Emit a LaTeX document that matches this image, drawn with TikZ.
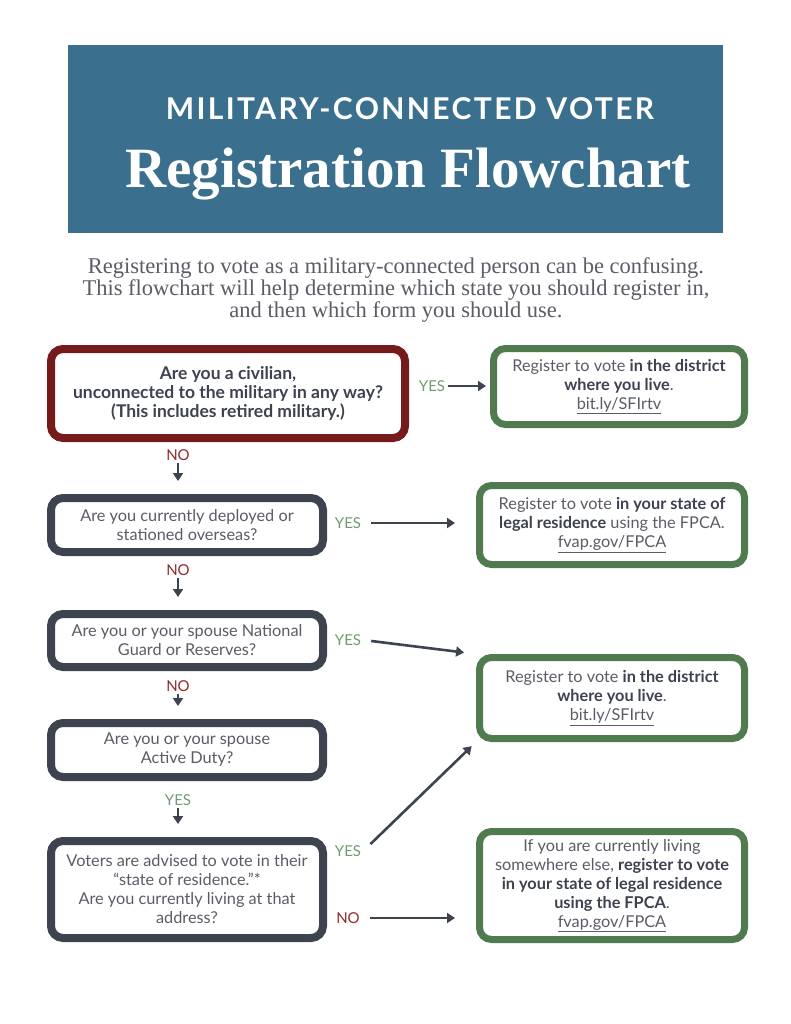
\documentclass[tikz,border=0pt]{standalone}
\usepackage{fontspec}
\setmainfont{Lato}
\newfontfamily\serifface{Liberation Serif}
\newfontfamily\capsface{Lato}[LetterSpace=8]
\usetikzlibrary{arrows.meta,positioning}
\definecolor{bannerblue}{HTML}{3A708D}
\definecolor{qred}{HTML}{761B1B}
\definecolor{qgray}{HTML}{3E4350}
\definecolor{agreen}{HTML}{4F7B4F}
\definecolor{txtgray}{HTML}{5A5C66}
\definecolor{txtdark}{HTML}{3E4150}
\definecolor{yesgreen}{HTML}{6E9C70}
\definecolor{nored}{HTML}{8E2C2C}
\newcommand{\emphb}[1]{{\bfseries\color{txtdark}#1}}
\begin{document}
\begin{tikzpicture}[x=1pt,y=-1pt]
		\tikzstyle{every node}=[font=\fontsize{16.3}{19}\selectfont, text=txtgray]
		\tikzstyle{qbox}=[draw=qgray, line width=8pt, rounded corners=12pt, fill=white, align=center, inner sep=0pt]
		\tikzstyle{abox}=[draw=agreen, line width=7pt, rounded corners=12pt, fill=white, align=center, inner sep=0pt]
		\tikzstyle{yes}=[text=yesgreen, font=\fontsize{15}{18}\selectfont, inner sep=2pt]
		\tikzstyle{no}=[text=nored, font=\fontsize{15}{18}\selectfont, inner sep=2pt]
		\tikzstyle{arr}=[draw=qgray, line width=2.6pt, -{Triangle[width=10pt,length=8pt]}]
		\useasboundingbox [fill=white] (0,0) rectangle (791,1024);
		% banner
		\node [fill=bannerblue, minimum width=655pt, minimum height=188pt, inner sep=0pt] (banner) at (395.5,139) {};
		\node [font=\capsface\bfseries\fontsize{30}{34}\selectfont, text=white] (kicker) at (410,109) {MILITARY-CONNECTED VOTER};
		\node [font=\serifface\bfseries\fontsize{57}{60}\selectfont, text=white] (title) at (408,174) {Registration Flowchart};
		\node [font=\serifface\fontsize{22.5}{20.5}\selectfont, align=center, text=txtgray] (intro) at (396,290)
			{Registering to vote as a military-connected person can be confusing.\\
			 This flowchart will help determine which state you should register in,\\
			 and then which form you should use.};
		% questions
		\node [qbox, draw=qred, minimum width=354pt, minimum height=89pt, font=\bfseries\fontsize{17.5}{19}\selectfont, text=txtdark] (civ) at (228,393.5)
			{Are you a civilian,\\ unconnected to the military in any way?\\ (This includes retired military.)};
		\node [qbox, minimum width=272pt, minimum height=54pt] (dep) at (187,525)
			{Are you currently deployed or\\ stationed overseas?};
		\node [qbox, minimum width=272pt, minimum height=53pt] (ngr) at (187,640.5)
			{Are you or your spouse National\\ Guard or Reserves?};
		\node [qbox, minimum width=272pt, minimum height=54pt] (act) at (187,750)
			{Are you or your spouse\\ Active Duty?};
		\node [qbox, minimum width=272pt, minimum height=97pt] (res) at (187,889.5)
			{Voters are advised to vote in their\\ “state of residence.”*\\ Are you currently living at that\\ address?};
		% answers
		\node [abox, minimum width=251pt, minimum height=76pt] (dist1) at (619,386.5)
			{Register to vote \emphb{in the district}\\ \emphb{where you live}.\\ \underline{bit.ly/SFIrtv}};
		\node [abox, minimum width=265pt, minimum height=79pt] (fpca1) at (612,525)
			{Register to vote \emphb{in your state of}\\ \emphb{legal residence} using the FPCA.\\ \underline{fvap.gov/FPCA}};
		\node [abox, minimum width=265pt, minimum height=81pt] (dist2) at (612,698)
			{Register to vote \emphb{in the district}\\ \emphb{where you live}.\\ \underline{bit.ly/SFIrtv}};
		\node [abox, minimum width=265pt, minimum height=108pt] (fpca2) at (612,885.5)
			{If you are currently living\\ somewhere else, \emphb{register to vote}\\ \emphb{in your state of legal residence}\\ \emphb{using the FPCA}.\\ \underline{fvap.gov/FPCA}};
		% labels
		\node [yes] (y1) at (432,386) {YES};
		\node [no] (n1) at (178,455) {NO};
		\node [yes] (y2) at (348,523) {YES};
		\node [no] (n2) at (178,570) {NO};
		\node [yes] (y3) at (348,640) {YES};
		\node [no] (n3) at (178,686) {NO};
		\node [yes] (y4) at (178,800) {YES};
		\node [yes] (y5) at (348,851) {YES};
		\node [no] (n5) at (348,918) {NO};
		% connectors
		\draw [arr, shorten <=1pt, shorten >=4pt] (y1.east) -- (y1.east -| dist1.west);
		\draw [arr, shorten >=13pt] (n1.south) -- (n1.south |- dep.north);
		\draw [arr, shorten <=8pt, shorten >=21pt] (y2.east) -- (y2.east -| fpca1.west);
		\draw [arr, shorten >=13pt] (n2.south) -- (n2.south |- ngr.north);
		\draw [arr, shorten <=8pt, shorten >=12pt] (y3.east) -- (dist2.north west);
		\draw [arr, shorten >=13pt] (n3.south) -- (n3.south |- act.north);
		\draw [arr, shorten >=13pt] (y4.south) -- (y4.south |- res.north);
		\draw [arr, shorten <=10pt, shorten >=6pt] (y5.east) -- (dist2.south west);
		\draw [arr, shorten <=8pt, shorten >=21pt] (n5.east) -- (n5.east -| fpca2.west);
\end{tikzpicture}
\end{document}
